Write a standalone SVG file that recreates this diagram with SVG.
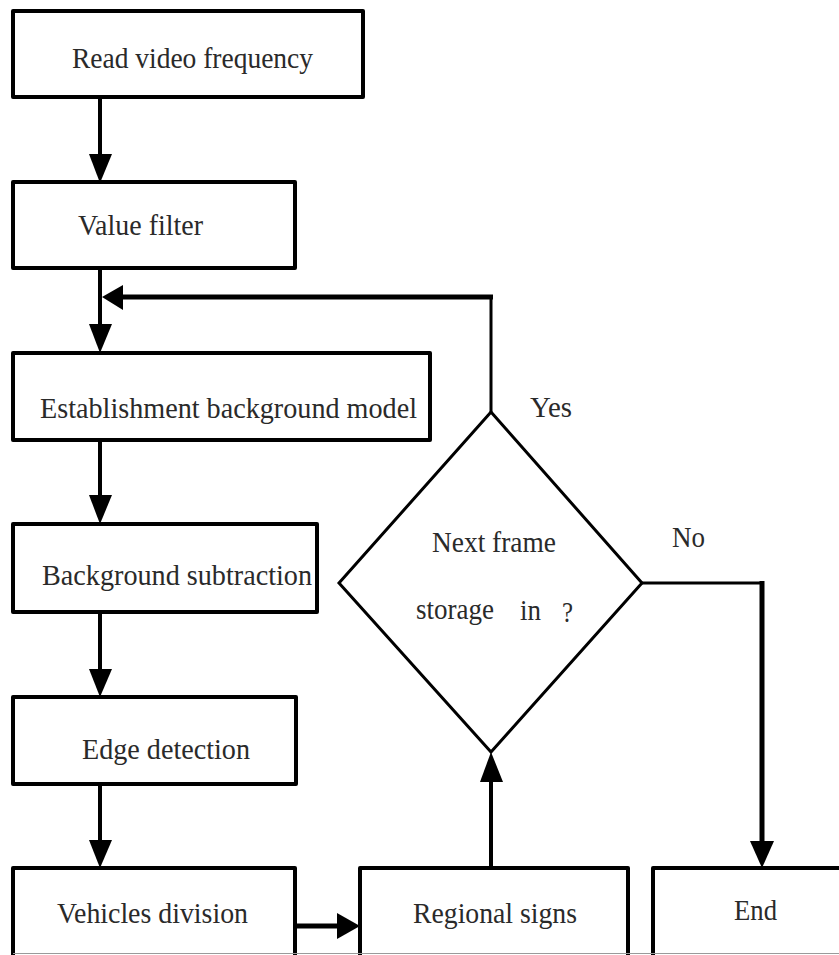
<svg xmlns="http://www.w3.org/2000/svg" width="839" height="955" viewBox="0 0 839 955">
  <style>
    .box { fill: #ffffff; stroke: #000000; stroke-width: 4; stroke-linejoin: round; }
    .dec { fill: #ffffff; stroke: #000000; stroke-width: 3; stroke-linejoin: miter; }
    .lbl { font-family: 'Liberation Serif', 'DejaVu Serif', serif; font-size: 30px; fill: #2a2a2a; }
    .edge { fill: none; stroke: #000000; stroke-width: 4; stroke-linecap: butt; stroke-linejoin: miter; }
    .thin { stroke-width: 3; }
    .thick { stroke-width: 5; }
    .head { fill: #000000; stroke: none; }
  </style>

  <rect width="839" height="955" fill="#ffffff"/>

  <!-- process boxes -->
  <g id="read-video">
    <rect class="box" x="13" y="11" width="350" height="86"/>
    <text class="lbl" x="72" y="68" textLength="241" lengthAdjust="spacingAndGlyphs">Read video frequency</text>
  </g>

  <g id="value-filter">
    <rect class="box" x="13" y="182" width="282" height="86"/>
    <text class="lbl" x="78" y="235" textLength="125" lengthAdjust="spacingAndGlyphs">Value filter</text>
  </g>

  <g id="background-model">
    <rect class="box" x="13" y="353" width="417" height="87"/>
    <text class="lbl" x="40" y="418" textLength="377" lengthAdjust="spacingAndGlyphs">Establishment background  model</text>
  </g>

  <g id="background-subtraction">
    <rect class="box" x="13" y="524" width="304" height="88"/>
    <text class="lbl" x="42" y="585" textLength="270" lengthAdjust="spacingAndGlyphs">Background  subtraction</text>
  </g>

  <g id="edge-detection">
    <rect class="box" x="13" y="697" width="283" height="87"/>
    <text class="lbl" x="82" y="759" textLength="168" lengthAdjust="spacingAndGlyphs">Edge detection</text>
  </g>

  <g id="vehicles-division">
    <rect class="box" x="13" y="868" width="282" height="100"/>
    <text class="lbl" x="57" y="923" textLength="191" lengthAdjust="spacingAndGlyphs">Vehicles division</text>
  </g>

  <g id="regional-signs">
    <rect class="box" x="360" y="868" width="268" height="100"/>
    <text class="lbl" x="413" y="923" textLength="164" lengthAdjust="spacingAndGlyphs">Regional signs</text>
  </g>

  <g id="end">
    <rect class="box" x="653" y="868" width="200" height="100"/>
    <text class="lbl" x="734" y="920" textLength="43" lengthAdjust="spacingAndGlyphs">End</text>
  </g>

  <!-- decision -->
  <g id="next-frame">
    <polygon class="dec" points="491,412 642,583 491,752 339,583"/>
    <text class="lbl" x="432" y="552" textLength="124" lengthAdjust="spacingAndGlyphs">Next frame</text>
    <text class="lbl" x="416" y="619" textLength="78" lengthAdjust="spacingAndGlyphs">storage</text>
    <text class="lbl" x="520" y="620" textLength="21" lengthAdjust="spacingAndGlyphs">in</text>
    <text class="lbl" x="562" y="622" textLength="11" lengthAdjust="spacingAndGlyphs">?</text>
  </g>

  <!-- bottom edge of the cut-off lower row -->
  <line x1="13" y1="953.5" x2="839" y2="953.5" stroke="#9a9a9a" stroke-width="1"/>

  <!-- connectors -->
  <g id="connectors">
    <!-- Read video -> Value filter -->
    <line class="edge" x1="100" y1="97" x2="100" y2="160"/>
    <polygon class="head" points="89,154 112,154 100,183"/>

    <!-- Value filter -> Establishment background model -->
    <line class="edge" x1="100" y1="268" x2="100" y2="330"/>
    <polygon class="head" points="89,324 112,324 100,353"/>

    <!-- Yes loop back -->
    <polyline class="edge thin" points="491,412 491,297"/>
    <line class="edge thick" x1="493" y1="297" x2="118" y2="297"/>
    <polygon class="head" points="102,297 123,285 123,310"/>

    <!-- Establishment -> Background subtraction -->
    <line class="edge" x1="100" y1="440" x2="100" y2="500"/>
    <polygon class="head" points="89,495 112,495 100,524"/>

    <!-- Background subtraction -> Edge detection -->
    <line class="edge" x1="100" y1="612" x2="100" y2="675"/>
    <polygon class="head" points="89,669 112,669 100,697"/>

    <!-- Edge detection -> Vehicles division -->
    <line class="edge" x1="100" y1="784" x2="100" y2="846"/>
    <polygon class="head" points="89,840 112,840 100,868"/>

    <!-- Vehicles division -> Regional signs -->
    <line class="edge thick" x1="295" y1="926" x2="340" y2="926"/>
    <polygon class="head" points="337,913 337,939 360,926"/>

    <!-- Regional signs -> decision -->
    <line class="edge" x1="491" y1="868" x2="491" y2="776"/>
    <polygon class="head" points="480,782 503,782 491,752"/>

    <!-- No -> End -->
    <polyline class="edge thin" points="642,583 764,583"/>
    <line class="edge thick" x1="762" y1="581" x2="762" y2="845"/>
    <polygon class="head" points="750,841 774,841 762,868"/>
  </g>

  <!-- branch labels -->
  <g id="branch-labels">
    <text class="lbl" x="530" y="417" textLength="42" lengthAdjust="spacingAndGlyphs">Yes</text>
    <text class="lbl" x="672" y="547" textLength="33" lengthAdjust="spacingAndGlyphs">No</text>
  </g>
</svg>
